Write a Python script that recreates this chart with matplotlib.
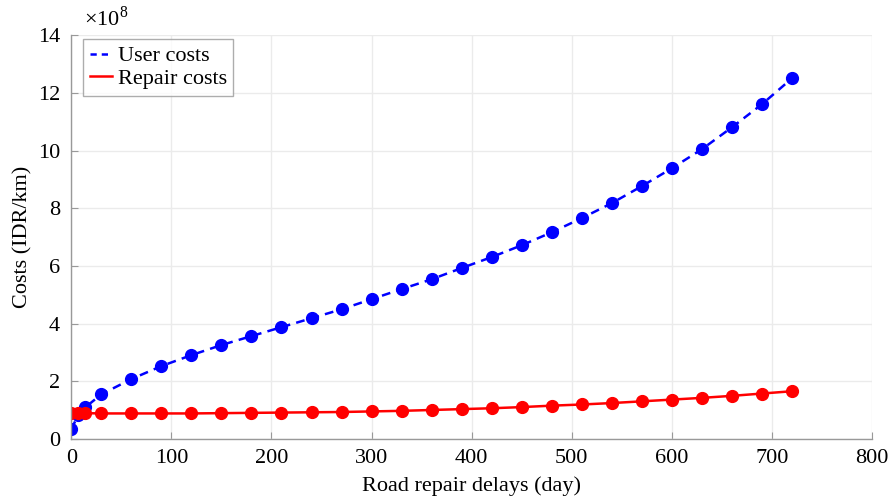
import matplotlib.pyplot as plt

plt.rcParams['font.family'] = ['Liberation Serif', 'DejaVu Serif']
plt.rcParams['mathtext.fontset'] = 'custom'
plt.rcParams['mathtext.rm'] = 'Liberation Serif'

# delays in days
days = [0, 7, 14, 30, 60, 90, 120, 150, 180, 210, 240, 270, 300, 330,
        360, 390, 420, 450, 480, 510, 540, 570, 600, 630, 660, 690, 720]

# costs in 1e8 IDR/km
user_costs = [0.34, 0.83, 1.10, 1.55, 2.08, 2.53, 2.91, 3.26, 3.57, 3.88,
              4.19, 4.50, 4.85, 5.20, 5.54, 5.93, 6.31, 6.72, 7.17, 7.66,
              8.18, 8.77, 9.39, 10.05, 10.81, 11.61, 12.51]
repair_costs = [0.90, 0.90, 0.90, 0.89, 0.89, 0.89, 0.89, 0.90, 0.91, 0.92,
                0.93, 0.94, 0.96, 0.98, 1.01, 1.04, 1.07, 1.11, 1.16, 1.20,
                1.25, 1.31, 1.37, 1.43, 1.50, 1.58, 1.66]

fig = plt.figure(figsize=(8.9, 5.03), dpi=100)
ax = fig.add_axes([0.080, 0.127, 0.900, 0.803])

ax.plot(days, user_costs, color='#0000ff', linestyle=(0, (3.5, 2.5)), linewidth=1.8,
        marker='o', markersize=8.5, label='User costs')
ax.plot(days, repair_costs, color='#ff0000', linestyle='-', linewidth=1.8,
        marker='o', markersize=8.5, label='Repair costs')

ax.set_xlim(0, 800)
ax.set_ylim(0, 14)
ax.set_xticks(range(0, 801, 100))
ax.set_yticks(range(0, 15, 2))

ax.grid(True, color='#ebebeb', linewidth=1.0)
ax.set_axisbelow(True)

for s in ['top', 'right']:
    ax.spines[s].set_visible(False)
for s in ['left', 'bottom']:
    ax.spines[s].set_color('#999999')
    ax.spines[s].set_linewidth(1.0)

ax.tick_params(direction='in', length=5, color='#999999', labelsize=16)
ax.tick_params(axis='x', pad=7)
ax.tick_params(axis='y', pad=8)

ax.set_xlabel('Road repair delays (day)', fontsize=16, labelpad=6)
ax.set_ylabel('Costs (IDR/km)', fontsize=16, labelpad=4)

ax.text(0.016, 1.012, r'$\times 10^{8}$', transform=ax.transAxes, fontsize=16,
        ha='left', va='bottom')

leg = ax.legend(loc='upper left', bbox_to_anchor=(0.015, 0.99), fontsize=16,
                frameon=True, fancybox=False, edgecolor='#999999',
                borderpad=0.3, labelspacing=0.1, handlelength=1.0,
                handletextpad=0.25, borderaxespad=0.0)
leg.get_frame().set_linewidth(1.0)
for h in leg.legend_handles:
    h.set_marker('')
leg.legend_handles[0].set_linestyle((0, (2.5, 2.0)))

fig.savefig('out.png', dpi=100)
